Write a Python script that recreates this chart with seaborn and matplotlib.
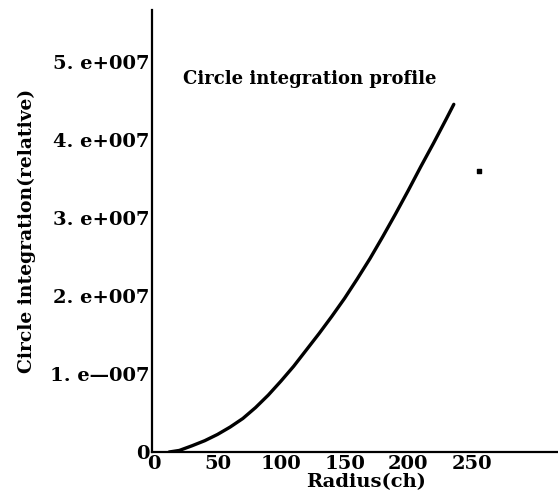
import numpy as np
import pandas as pd
import matplotlib
matplotlib.use("Agg")
import matplotlib.pyplot as plt
import seaborn as sns

# values (intensity in units of 1e7)
radius = [12, 20, 30, 40, 50, 60, 70, 80, 90, 100, 110, 120, 130, 140,
          150, 160, 170, 180, 190, 200, 210, 220, 230, 236]
intensity = [0.0, 0.02, 0.08, 0.145, 0.225, 0.32, 0.43, 0.57, 0.73, 0.91,
             1.10, 1.31, 1.52, 1.74, 1.97, 2.22, 2.48, 2.76, 3.05, 3.35,
             3.66, 3.96, 4.27, 4.46]

# stray speck in the scan
speck_x = [256]
speck_y = [3.6]

x_ticks = [0, 50, 100, 150, 200, 250, 300]
x_ticklabels = ["0", "50", "100", "150", "200", "250", ""]
y_ticks = [0, 1, 2, 3, 4, 5]
y_ticklabels = ["0", "1. e\u2014007", "2. e+007", "3. e+007", "4. e+007", "5. e+007"]

df = pd.DataFrame({"radius": radius, "value": np.array(intensity) * 1e7})

sns.set_style("white")
plt.rcParams["font.family"] = ["DejaVu Serif"]
plt.rcParams["font.weight"] = "bold"
plt.rcParams["text.color"] = "black"
plt.rcParams["axes.labelcolor"] = "black"

fig = plt.figure(figsize=(5.58, 5.03), dpi=100)
ax = fig.add_axes([152 / 558, 51 / 503, 406 / 558, 442 / 503])

sns.lineplot(data=df, x="radius", y="value", ax=ax, color="black", lw=2.4)
ax.scatter(speck_x, np.array(speck_y) * 1e7, s=10, marker="s", color="black")

ax.set_xlim(-1.5, 318)
ax.set_ylim(0, 5.67e7)
ax.set_xticks(x_ticks)
ax.set_xticklabels(x_ticklabels)
ax.set_yticks([v * 1e7 for v in y_ticks])
ax.set_yticklabels(y_ticklabels)

for side in ["top", "right"]:
    ax.spines[side].set_visible(False)
for side in ["left", "bottom"]:
    ax.spines[side].set_linewidth(1.6)
    ax.spines[side].set_color("black")

ax.tick_params(direction="in", length=5, width=1.4, colors="black",
               labelsize=14, pad=2)

ax.set_xlabel("Radius(ch)", fontsize=14, fontweight="bold")
ax.set_ylabel("Circle integration(relative)", fontsize=13.5,
              fontweight="bold", labelpad=10)
ax.xaxis.set_label_coords(0.527, -0.047)
ax.text(0.076, 0.844, "Circle integration profile", transform=ax.transAxes,
        fontsize=13, fontweight="bold", va="center", ha="left")

fig.savefig("out.png", dpi=100)
